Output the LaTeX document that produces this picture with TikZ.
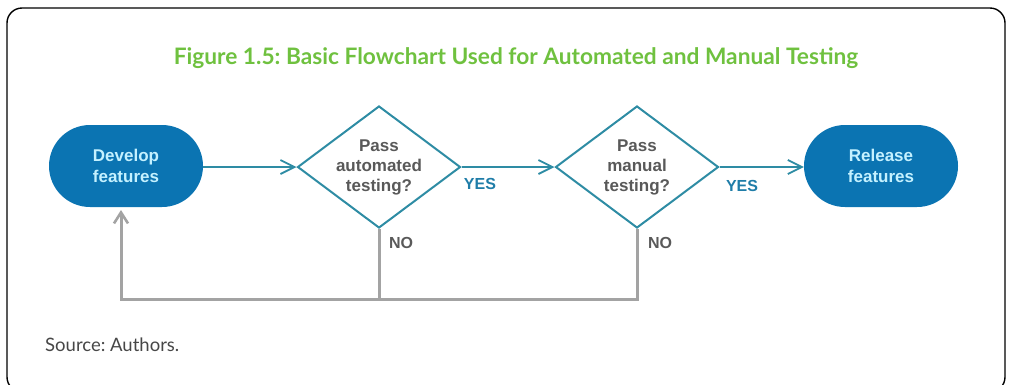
\documentclass[tikz,border=0pt]{standalone}
\usepackage{fontspec}
\setmainfont{Liberation Sans}
\newfontfamily\titlefont{Lato}
\newfontfamily\notefont{Lato}
\frenchspacing
\usetikzlibrary{shapes.geometric,shapes.misc,arrows.meta}
\definecolor{framegreen}{HTML}{6FC13F}
\definecolor{stadblue}{HTML}{0B74B2}
\definecolor{stadtext}{HTML}{C4F1FF}
\definecolor{flowteal}{HTML}{2E8CA4}
\definecolor{yesblue}{HTML}{1F7DA8}
\definecolor{labelgray}{HTML}{595959}
\definecolor{loopgray}{HTML}{A3A3A3}
\definecolor{notegray}{HTML}{474747}
\tikzset{
  terminal/.style={rounded rectangle, fill=stadblue, draw=none,
    minimum width=154pt, minimum height=82pt, inner sep=0pt,
    text=stadtext, align=center, font=\bfseries\fontsize{17}{21}\selectfont},
  decision/.style={diamond, draw=flowteal, line width=2pt, fill=white,
    minimum width=163pt, minimum height=122pt, inner sep=0pt},
  question/.style={text=labelgray, align=center, inner sep=0pt,
    font=\bfseries\fontsize{17}{20}\selectfont},
  flow/.style={draw=flowteal, line width=1.8pt,
    -{Straight Barb[length=14pt,width=14pt,line width=1.8pt]}},
  loopline/.style={draw=loopgray, line width=3pt},
  looparrow/.style={loopline,
    -{Straight Barb[length=11pt,width=14pt,line width=2.6pt]}},
  yeslabel/.style={text=yesblue, font=\bfseries\fontsize{16}{18}\selectfont, inner sep=0pt},
  nolabel/.style={text=labelgray, font=\bfseries\fontsize{16}{18}\selectfont, inner sep=0pt},
}
\begin{document}
\begin{tikzpicture}[x=1pt,y=-1pt]
  \useasboundingbox (0,0) rectangle (1011,384);
  % outer frame
  \draw[line width=1.4pt, rounded corners=15pt] (7,8) rectangle (1005,392);
  % heading
  \node[text=framegreen, font=\titlefont\bfseries\fontsize{22.7}{26}\selectfont] (title) at (516,58)
    {Figure 1.5: Basic Flowchart Used for Automated and Manual Testing};
  % flow nodes
  \node[terminal] (dev) at (126,166) {Develop\\features};
  \node[decision] (d1) at (379,167) {};
  \node[question] (q1) at (d1.center) {Pass\\automated\\testing?};
  \node[decision] (d2) at (637,167) {};
  \node[question] (q2) at (d2.center) {Pass\\manual\\testing?};
  \node[terminal] (rel) at (881,166) {Release\\features};
  % main path
  \draw[flow] (dev.east |- d1.west) -- (d1.west);
  \draw[flow] (d1.east) -- (d2.west);
  \draw[flow] (d2.east) -- (rel.west |- d2.east);
  % failure loop back to development
  \coordinate (j1) at (d1.south |- 0,299);
  \coordinate (j2) at (d2.south |- 0,299);
  \coordinate (corner) at (121,299);
  \draw[loopline] (d1.south) -- (j1);
  \draw[looparrow] (d2.south) -- (j2) -- (corner) -- (corner |- 0,210);
  % branch labels
  \node[yeslabel] (yes1) at (480,184) {YES};
  \node[yeslabel] (yes2) at (742,186) {YES};
  \node[nolabel] (no1) at (401,243) {NO};
  \node[nolabel] (no2) at (660,243) {NO};
  % source note
  \node[anchor=west, text=notegray, font=\notefont\fontsize{18.5}{22}\selectfont, inner sep=0pt] (src) at (45,345) {Source: Authors.};
\end{tikzpicture}
\end{document}
